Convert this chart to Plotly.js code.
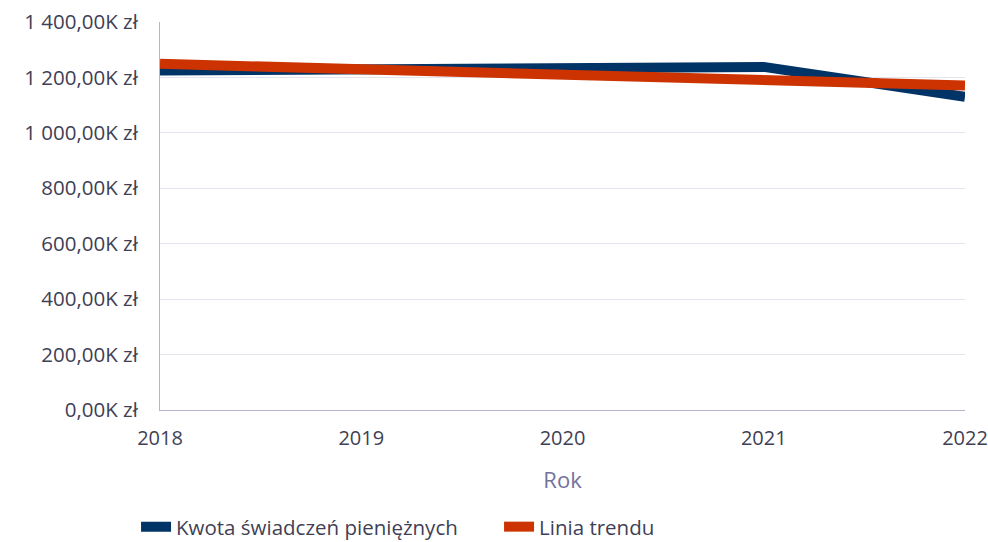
<!DOCTYPE html>
<html><head><meta charset="utf-8">
<script src="https://cdn.plot.ly/plotly-3.0.1.min.js"></script>
<style>html,body{margin:0;padding:0;background:#fff;}#chart{width:988px;height:542px;}</style>
</head><body><div id="chart"></div>
<script>
const years = [2018, 2019, 2020, 2021, 2022];
const kwota = [1225, 1232, 1230, 1238, 1130];      // K zł
const trend = [1249, 1229.5, 1210, 1190.5, 1171];  // K zł
const seriesNames = ['Kwota świadczeń pieniężnych', 'Linia trendu'];
const xTitle = 'Rok';

const txt = '#3f3f55';
const traces = [
  {x: years, y: kwota, type: 'scatter', mode: 'lines', name: seriesNames[0],
   line: {color: '#003366', width: 10}},
  {x: years, y: trend, type: 'scatter', mode: 'lines', name: seriesNames[1],
   line: {color: '#cc3300', width: 10}}
];
const layout = {
  width: 988, height: 542,
  margin: {l: 160, r: 23, t: 22, b: 132},
  paper_bgcolor: '#fff', plot_bgcolor: '#fff',
  separators: ', ',
  font: {family: 'Open Sans, sans-serif', size: 20.5, color: txt},
  showlegend: true,
  legend: {orientation: 'h', xref: 'container', yref: 'container',
           x: 0.1377, xanchor: 'left', y: 0.028, yanchor: 'middle',
           font: {size: 20.5, color: txt}, itemwidth: 30, tracegroupgap: 0, entrywidth: 318},
  xaxis: {range: [2018, 2022], tickvals: years, ticktext: years.map(String),
          showgrid: false, zeroline: false, showline: true, linecolor: '#b4b4cc', linewidth: 1,
          ticks: '', ticklabelstandoff: 10, ticklabeloverflow: 'allow', automargin: false,
          tickfont: {size: 20},
          title: {text: xTitle, font: {size: 22, color: '#72729e'}, standoff: 22}},
  yaxis: {range: [0, 1400], dtick: 200, tickformat: ',.2f', ticksuffix: 'K zł',
          showgrid: true, gridcolor: '#e4e4ee', gridwidth: 1, zeroline: false,
          showline: true, linecolor: '#b4b4cc', linewidth: 1, ticks: '', ticklabelstandoff: 17}
};
Plotly.newPlot('chart', traces, layout, {displayModeBar: false, staticPlot: true});
</script></body></html>
